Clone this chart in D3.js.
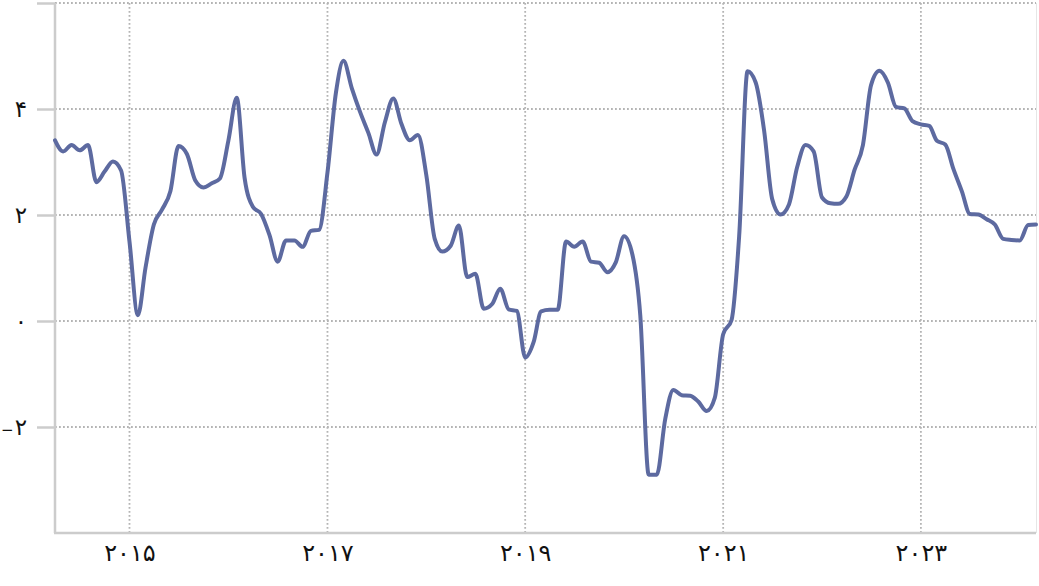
<!DOCTYPE html>
<html><head><meta charset="utf-8">
<script src="https://cdn.jsdelivr.net/npm/d3@7/dist/d3.min.js"></script>
<style>
html,body{margin:0;padding:0;background:#fff;}
svg{display:block;}
</style></head>
<body>
<svg id="chart" width="1039" height="586"></svg>
<script>
const startMonth = "2014-04";
const values = [
 3.41,3.20,3.32,3.22,3.32,2.62,2.82,3.01,2.84,
 1.50,0.11,1.00,1.82,2.10,2.45,3.30,3.15,2.65,2.52,2.60,2.69,
 3.40,4.21,2.70,2.15,2.02,1.62,1.12,1.52,1.52,1.40,1.70,1.72,
 2.80,4.30,4.91,4.39,3.95,3.55,3.14,3.75,4.20,3.72,3.41,3.51,
 2.75,1.55,1.31,1.42,1.80,0.83,0.89,0.23,0.32,0.61,0.22,0.19,
 -0.69,-0.40,0.18,0.21,0.21,1.50,1.40,1.50,1.12,1.10,0.92,1.10,
 1.60,1.25,0.10,-2.90,-2.90,-1.85,-1.30,-1.40,-1.41,-1.52,-1.70,-1.45,
 -0.25,0.02,1.60,4.71,4.50,3.60,2.30,2.01,2.20,2.90,3.32,3.20,
 2.33,2.22,2.21,2.35,2.85,3.32,4.45,4.72,4.50,4.04,4.01,3.77,
 3.71,3.68,3.40,3.33,2.87,2.45,2.02,2.01,1.92,1.82,1.55,1.53,
 1.52,1.81,1.82
];
const yTicks = [-4,-2,0,2,4,6];
const yTickLabels = ["", "−۲", "۰", "۲", "۴", ""];
const xTickYears = [2015,2017,2019,2021,2023];
const xTickLabels = ["۲۰۱۵","۲۰۱۷","۲۰۱۹","۲۰۲۱","۲۰۲۳"];

const parse = d3.timeParse("%Y-%m");
const t0 = parse(startMonth);
const data = values.map((v,i)=>({date:d3.timeMonth.offset(t0,i), value:v}));

const svg = d3.select("#chart");
const pL = 55, pR = 1036, pT = 3, pB = 533;

const x = d3.scaleTime()
  .domain(d3.extent(data,d=>d.date))
  .range([pL,pR]);
const y = d3.scaleLinear().domain([-4,6]).range([pB,pT]);

// gridlines
const grid = svg.append("g");
grid.selectAll("line.h").data(yTicks.filter(t=>t>-4)).join("line")
  .attr("x1",pL).attr("x2",pR)
  .attr("y1",d=>y(d)).attr("y2",d=>y(d))
  .attr("stroke","#b4b4b4").attr("stroke-width",1.8)
  .attr("stroke-dasharray","1.8,2.2");
grid.selectAll("line.v").data(xTickYears).join("line")
  .attr("x1",d=>x(new Date(d,0,1))).attr("x2",d=>x(new Date(d,0,1)))
  .attr("y1",pT).attr("y2",pB)
  .attr("stroke","#b4b4b4").attr("stroke-width",1.8)
  .attr("stroke-dasharray","1.8,2.2");

// right faint border
svg.append("line").attr("x1",pR+0.5).attr("x2",pR+0.5)
  .attr("y1",pT).attr("y2",pB).attr("stroke","#e6e6e6").attr("stroke-width",1);

const fontFam = "'DejaVu Sans', 'Noto Sans', sans-serif";

// y axis
const yAxis = d3.axisLeft(y).tickValues(yTicks)
  .tickSize(18).tickPadding(10)
  .tickFormat((d,i)=>yTickLabels[i]);
const gy = svg.append("g").attr("transform",`translate(${pL},0)`).call(yAxis);
gy.select(".domain").attr("stroke","#cccccc").attr("stroke-width",2.5)
  .attr("d",`M0,${pT}V${pB}`);
gy.selectAll(".tick line").attr("stroke","#cccccc").attr("stroke-width",2.5);
gy.selectAll(".tick").filter(d=>d===-4).select("line").remove();
gy.selectAll(".tick text").attr("fill","#111")
  .style("font-family",fontFam).style("font-size","23px")
  .each(function(){
    const s = d3.select(this), t = s.text();
    if (t.startsWith("−")) {
      s.text(null);
      s.append("tspan").style("font-size","15px").attr("dx","0").text("−");
      s.append("tspan").attr("dx","1").text(t.slice(1));
    }
  });

// x axis
const xAxis = d3.axisBottom(x).tickValues(xTickYears.map(yr=>new Date(yr,0,1)))
  .tickSize(0).tickPadding(11)
  .tickFormat((d,i)=>xTickLabels[i]);
const gx = svg.append("g").attr("transform",`translate(0,${pB})`).call(xAxis);
gx.select(".domain").attr("stroke","#cccccc").attr("stroke-width",2.5)
  .attr("d",`M${pL-1},0H${pR}`);
gx.selectAll(".tick text").attr("fill","#111")
  .style("font-family",fontFam).style("font-size","24px")
  .style("letter-spacing","2px");

// line
const line = d3.line().x(d=>x(d.date)).y(d=>y(d.value)).curve(d3.curveMonotoneX);
svg.append("path").datum(data)
  .attr("fill","none").attr("stroke","#5d6aa0").attr("stroke-width",4)
  .attr("stroke-linejoin","round").attr("stroke-linecap","round")
  .attr("d",line);
</script>
</body></html>
